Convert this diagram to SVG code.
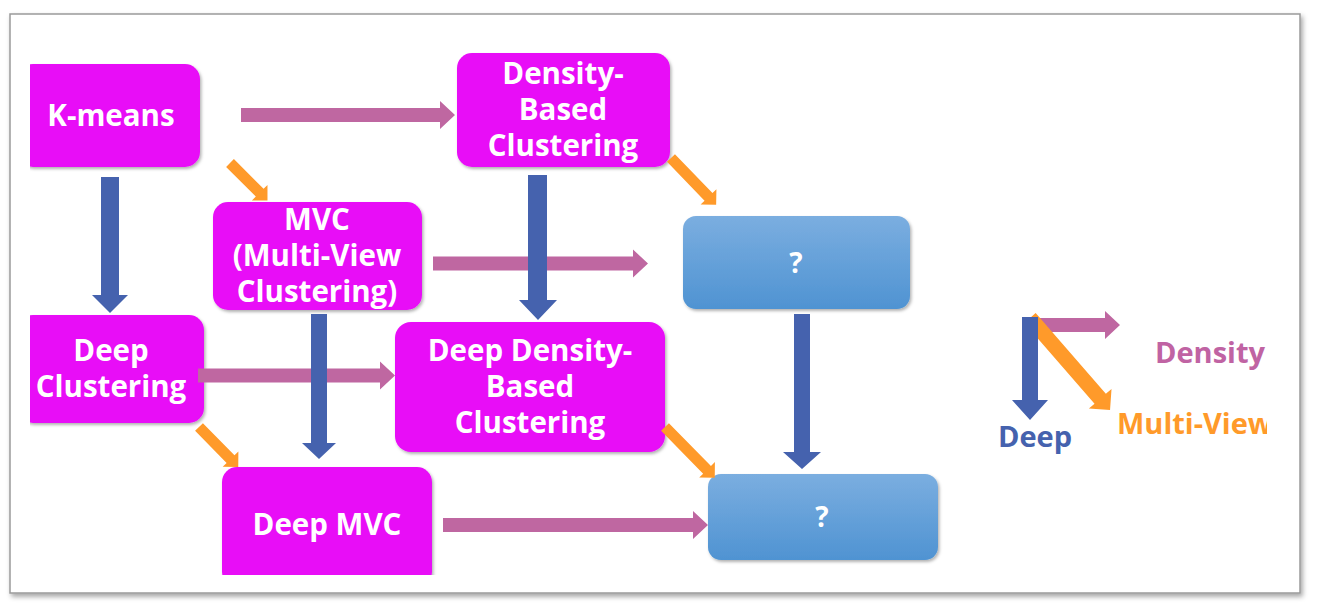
<svg xmlns="http://www.w3.org/2000/svg" width="1318" height="612" viewBox="0 0 1318 612">
<style>
.node{fill:#E811F7;}
.q{fill:url(#qgrad);}
.t{font-family:"Open Sans","Liberation Sans",sans-serif;font-weight:700;fill:#ffffff;text-anchor:middle;font-size:29.5px;}
.qt{font-family:"Open Sans","Liberation Sans",sans-serif;font-weight:700;fill:#ffffff;text-anchor:middle;font-size:28px;}
.pink{fill:#BF67A1;}
.blue{fill:#4562AE;}
.orange{fill:#FF9A2A;}
.lg{font-family:"Open Sans","Liberation Sans",sans-serif;font-weight:700;font-size:29px;}
</style>
<defs>
<linearGradient id="qgrad" x1="0" y1="0" x2="0" y2="1">
<stop offset="0" stop-color="#7BAEE0"/>
<stop offset="1" stop-color="#4F93D2"/>
</linearGradient>
<filter id="frameShadow" x="-5%" y="-5%" width="110%" height="115%">
<feDropShadow dx="2" dy="3" stdDeviation="2.5" flood-color="#000" flood-opacity="0.35"/>
</filter>
<filter id="boxShadow" x="-10%" y="-10%" width="125%" height="130%">
<feDropShadow dx="1.5" dy="2" stdDeviation="1.5" flood-color="#000" flood-opacity="0.3"/>
</filter>
<clipPath id="area"><rect x="30" y="15" width="1237" height="560"/></clipPath>
</defs>
<rect x="10" y="14" width="1290" height="579" fill="#ffffff" stroke="#9a9a9a" stroke-width="1.5" filter="url(#frameShadow)"/>
<g clip-path="url(#area)">
<g id="nodes">
<g id="kmeans"><rect class="node" x="18" y="64" width="182" height="103" rx="15" filter="url(#boxShadow)"/><text class="t" x="111" y="126">K-means</text></g>
<g id="density"><rect class="node" x="457" y="53" width="213" height="114" rx="15" filter="url(#boxShadow)"/><text class="t" x="563" y="84">Density-</text><text class="t" x="563" y="120">Based</text><text class="t" x="563" y="156">Clustering</text></g>
<g id="mvc"><rect class="node" x="213" y="202" width="209" height="108" rx="15" filter="url(#boxShadow)"/><text class="t" x="317" y="230">MVC</text><text class="t" x="317" y="266">(Multi-View</text><text class="t" x="317" y="302">Clustering)</text></g>
<g id="q1"><rect class="q" x="683" y="216" width="227" height="93" rx="13" filter="url(#boxShadow)"/><text class="qt" x="796" y="273">?</text></g>
<g id="deepclust"><rect class="node" x="18" y="315" width="186" height="108" rx="15" filter="url(#boxShadow)"/><text class="t" x="111" y="361">Deep</text><text class="t" x="111" y="397">Clustering</text></g>
<g id="deepdensity"><rect class="node" x="395" y="322" width="270" height="130" rx="16" filter="url(#boxShadow)"/><text class="t" x="530" y="361">Deep Density-</text><text class="t" x="530" y="397">Based</text><text class="t" x="530" y="433">Clustering</text></g>
<g id="deepmvc"><rect class="node" x="222" y="467" width="210" height="120" rx="15" filter="url(#boxShadow)"/><text class="t" x="327" y="535">Deep MVC</text></g>
<g id="q2"><rect class="q" x="708" y="474" width="230" height="86" rx="13" filter="url(#boxShadow)"/><text class="qt" x="822" y="527">?</text></g>
</g>
<g id="connectors">
<polygon class="pink" points="241,108 440,108 440,101 455,115 440,129 440,122 241,122"/>
<polygon class="pink" points="433,256.5 633,256.5 633,249.5 648,263.5 633,277.5 633,270.5 433,270.5"/>
<polygon class="pink" points="198,368.5 380,368.5 380,361.5 395,375.5 380,389.5 380,382.5 198,382.5"/>
<polygon class="pink" points="443,518 693,518 693,511 708,525 693,539 693,532 443,532"/>
<polygon class="blue" points="101,177 119,177 119,295 128,295 110,313 92,295 101,295"/>
<polygon class="blue" points="528,175 547,175 547,300 557,300 538,320 519,300 528,300"/>
<polygon class="blue" points="311,314 327,314 327,443 336,443 319,459 302,443 311,443"/>
<polygon class="blue" points="794,314 810,314 810,452 821,452 802,469 783,452 794,452"/>
<polygon class="orange" points="0,-5.5 42,-5.5 42,-11 53,0 42,11 42,5.5 0,5.5" transform="translate(230,163) rotate(45)"/>
<polygon class="orange" points="0,-5.5 54,-5.5 54,-11 65,0 54,11 54,5.5 0,5.5" transform="translate(671,158) rotate(46)"/>
<polygon class="orange" points="0,-5.5 45,-5.5 45,-11 56,0 45,11 45,5.5 0,5.5" transform="translate(199,427) rotate(45.5)"/>
<polygon class="orange" points="0,-5.5 60,-5.5 60,-11 71,0 60,11 60,5.5 0,5.5" transform="translate(665,427) rotate(45.5)"/>
</g>
<g id="legend">
<polygon class="pink" points="1037,318 1105,318 1105,311 1120,325 1105,339 1105,332 1037,332"/>
<polygon class="orange" points="0,-7.5 107,-7.5 107,-15 122,0 107,15 107,7.5 0,7.5" transform="translate(1030,318) rotate(49)"/>
<polygon class="blue" points="1022,317 1038,317 1038,400 1048,400 1030,420 1012,400 1022,400"/>
<text class="lg" x="1155" y="363" fill="#C063A3">Density</text>
<text class="lg" x="1117" y="434" fill="#FF9A2A">Multi-View</text>
<text class="lg" x="998" y="447" fill="#4562AE">Deep</text>
</g>
</g>
</svg>
